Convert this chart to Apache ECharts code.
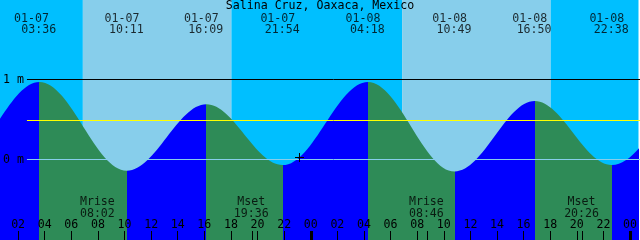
<!DOCTYPE html>
<html><head><meta charset="utf-8">
<script src="https://cdn.jsdelivr.net/npm/echarts@6/dist/echarts.min.js"></script>
<style>html,body{margin:0;padding:0;background:#fff}#c{width:640px;height:240px}</style>
</head><body><div id="c"></div>
<script>
// ---------------- data ----------------
const TITLE = 'Salina Cruz, Oaxaca, Mexico';
// visible high / low tides
const tideDates   = ['01-07', '01-07', '01-07', '01-07', '01-08', '01-08', '01-08', '01-08'];
const tideTimes   = ['03:36', '10:11', '16:09', '21:54', '04:18', '10:49', '16:50', '22:38'];
const tideHeights = [0.97, -0.14, 0.69, -0.07, 0.97, -0.15, 0.73, -0.07];
const tideKinds   = ['H', 'L', 'H', 'L', 'H', 'L', 'H', 'L'];
// estimated extremes just outside the visible window (shape the curve at the edges)
const outerDates   = ['01-06', '01-06', '01-09', '01-09'];
const outerTimes   = ['15:30', '21:15', '05:30', '11:30'];
const outerHeights = [0.70, -0.06, 0.96, -0.12];
const outerKinds   = ['H', 'L', 'H', 'L'];
// moon events
const moonEvents = ['Mrise', 'Mset', 'Mrise', 'Mset'];
const moonDates  = ['01-07', '01-07', '01-08', '01-08'];
const moonTimes  = ['08:02', '19:36', '08:46', '20:26'];
// sunrise / sunset
const sunDates = ['01-07', '01-07', '01-08', '01-08'];
const sunTimes = ['06:52', '18:02', '06:52', '18:02'];
// axis ticks (hours since 01-07 00:00)
const hourTicks = [2, 4, 6, 8, 10, 12, 14, 16, 18, 20, 22, 24, 26, 28, 30, 32, 34, 36, 38, 40, 42, 44, 46, 48];
const midnightTicks = [24, 48];
// reference levels (m)
const levelValues = [1, 0.4875, 0];
const levelLabelValues = [0, 1];
// "now" marker
const markerDate = '01-07', markerTime = '23:10', markerLevel = 0.025;

// ---------------- helpers / layout ----------------
function toHours(d, t) {
  const day = parseInt(d.slice(3), 10) - 7;
  const [hh, mm] = t.split(':').map(Number);
  return day * 24 + hh + mm / 60;
}
const X_MIN = 0.6375, X_MAX = 48.6375;
const Y_MIN = -1.00625, Y_MAX = 1.99375;
const H = 240;
const rowVal = px => Y_MAX - px * (Y_MAX - Y_MIN) / H;

const FONT = "'DejaVu Sans Mono', monospace";
const FS = 11.6;
const NIGHT = '#00BFFF', DAY = '#87CEEB', RISE = '#0000FF', FALL = '#2E8B57';
const levelColors = ['#000000', '#FFFF00', '#87CEEB'];

// all extremes sorted
const ext = [];
outerDates.forEach((d, i) => ext.push({h: toHours(d, outerTimes[i]), v: outerHeights[i], k: outerKinds[i]}));
tideDates.forEach((d, i) => ext.push({h: toHours(d, tideTimes[i]), v: tideHeights[i], k: tideKinds[i]}));
ext.sort((a, b) => a.h - b.h);
const curve = ext.map(e => [e.h, e.v]);

const pieces = [{lt: ext[0].h, color: ext[0].k === 'H' ? RISE : FALL}];
for (let i = 0; i < ext.length - 1; i++) {
  pieces.push({gte: ext[i].h, lt: ext[i + 1].h, color: ext[i].k === 'H' ? FALL : RISE});
}
pieces.push({gte: ext[ext.length - 1].h, color: ext[ext.length - 1].k === 'H' ? FALL : RISE});

// day/night bands
const sunH = sunDates.map((d, i) => toHours(d, sunTimes[i]));
const bands = [
  [X_MIN, sunH[0], 0, 0],
  [sunH[0], sunH[1], 0, 1],
  [sunH[1], sunH[2], 0, 0],
  [sunH[2], sunH[3], 0, 1],
  [sunH[3], X_MAX, 0, 0]
];

const moonH = moonDates.map((d, i) => toHours(d, moonTimes[i]));
const tickValues = hourTicks.concat(moonH);
const tideH = tideDates.map((d, i) => toHours(d, tideTimes[i]));

const pad = n => (n < 10 ? '0' : '') + n;
const txt = {color: '#000', fontFamily: FONT, fontSize: FS};

function textSeries(values, rowPx, texts, offsetFn) {
  return {
    type: 'scatter', xAxisIndex: 0, yAxisIndex: 0, z: 6, silent: true,
    symbolSize: 0, animation: false,
    data: values.map((h, i) => ({
      value: [h, rowVal(rowPx)],
      label: {offset: offsetFn(i)}
    })),
    label: Object.assign({show: true, position: 'inside', formatter: p => texts[p.dataIndex]}, txt)
  };
}

const chart = echarts.init(document.getElementById('c'), null, {renderer: 'canvas'});
chart.setOption({
  animation: false,
  backgroundColor: '#ffffff',
  title: {
    text: TITLE, left: 'center', top: 0, padding: 0,
    textStyle: {color: '#000', fontFamily: FONT, fontSize: FS, fontWeight: 'normal'}
  },
  grid: [
    {left: 0, right: 0, top: 0, bottom: 0},
    {left: 25, right: 0, top: 0, bottom: 0}
  ],
  xAxis: [
    {
      gridIndex: 0, type: 'value', position: 'bottom', min: X_MIN, max: X_MAX, z: 10,
      axisLine: {show: false, onZero: false}, splitLine: {show: false},
      axisTick: {show: true, inside: true, length: 9, customValues: tickValues,
                 lineStyle: {color: '#000', width: 1}},
      axisLabel: Object.assign({show: true, inside: true, margin: 9, customValues: hourTicks,
                 formatter: v => pad(Math.round(v) % 24)}, txt)
    },
    {
      gridIndex: 0, type: 'value', position: 'bottom', min: X_MIN, max: X_MAX, z: 10,
      axisLine: {show: false, onZero: false}, splitLine: {show: false},
      axisTick: {show: true, inside: true, length: 9, customValues: midnightTicks,
                 lineStyle: {color: '#000', width: 3}},
      axisLabel: {show: false}
    },
    {gridIndex: 1, type: 'value', min: X_MIN, max: X_MAX, show: false}
  ],
  yAxis: [
    {gridIndex: 0, type: 'value', min: Y_MIN, max: Y_MAX, show: false},
    {
      gridIndex: 1, type: 'value', min: Y_MIN, max: Y_MAX, z: 10,
      axisLine: {show: false, onZero: false}, axisTick: {show: false}, splitLine: {show: false},
      axisLabel: Object.assign({show: true, margin: 3, customValues: levelLabelValues,
                 formatter: v => v + ' m'}, txt)
    }
  ],
  visualMap: {type: 'piecewise', show: false, dimension: 0, seriesIndex: 1, pieces: pieces},
  series: [
    {
      type: 'custom', xAxisIndex: 0, yAxisIndex: 0, z: 0, silent: true,
      encode: {x: [0, 1], y: 2},
      data: bands,
      renderItem: (params, api) => {
        const s = api.coord([api.value(0), 0]);
        const e = api.coord([api.value(1), 0]);
        const cs = params.coordSys;
        return {type: 'rect', shape: {x: s[0], y: cs.y, width: e[0] - s[0], height: cs.height},
                style: {fill: api.value(3) ? DAY : NIGHT}};
      }
    },
    {
      type: 'line', xAxisIndex: 0, yAxisIndex: 0, z: 1, silent: true,
      data: curve, smooth: 0.36, smoothMonotone: 'x',
      showSymbol: false, symbol: 'none',
      lineStyle: {width: 0},
      areaStyle: {opacity: 1, origin: 'start'}
    },
    {
      type: 'line', xAxisIndex: 2, yAxisIndex: 1, z: 3, silent: true, data: [],
      markLine: {
        silent: true, symbol: ['none', 'none'], label: {show: false}, animation: false,
        data: levelValues.map((v, i) => ({yAxis: v, lineStyle: {color: levelColors[i], width: 1, type: 'solid'}}))
      }
    },
    textSeries(tideH, 18.5, tideDates, i => [i === 0 ? -8 : -5, 0]),
    textSeries(tideH, 30.3, tideTimes, i => [-0.6, 0]),
    textSeries(moonH, 202.1, moonEvents, i => [-1, 0]),
    textSeries(moonH, 213.8, moonTimes, i => [-1, 0])
  ]
});

// "now" marker: a small black cross placed through the axes' scales
const mp = chart.convertToPixel({xAxisIndex: 0, yAxisIndex: 0}, [toHours(markerDate, markerTime), markerLevel]);
const mx = Math.floor(mp[0]), my = Math.floor(mp[1]);
chart.setOption({
  graphic: [
    {type: 'rect', z: 100, silent: true, shape: {x: mx - 4, y: my, width: 9, height: 1}, style: {fill: '#000000'}},
    {type: 'rect', z: 100, silent: true, shape: {x: mx, y: my - 4, width: 1, height: 9}, style: {fill: '#000000'}}
  ]
});
</script></body></html>
